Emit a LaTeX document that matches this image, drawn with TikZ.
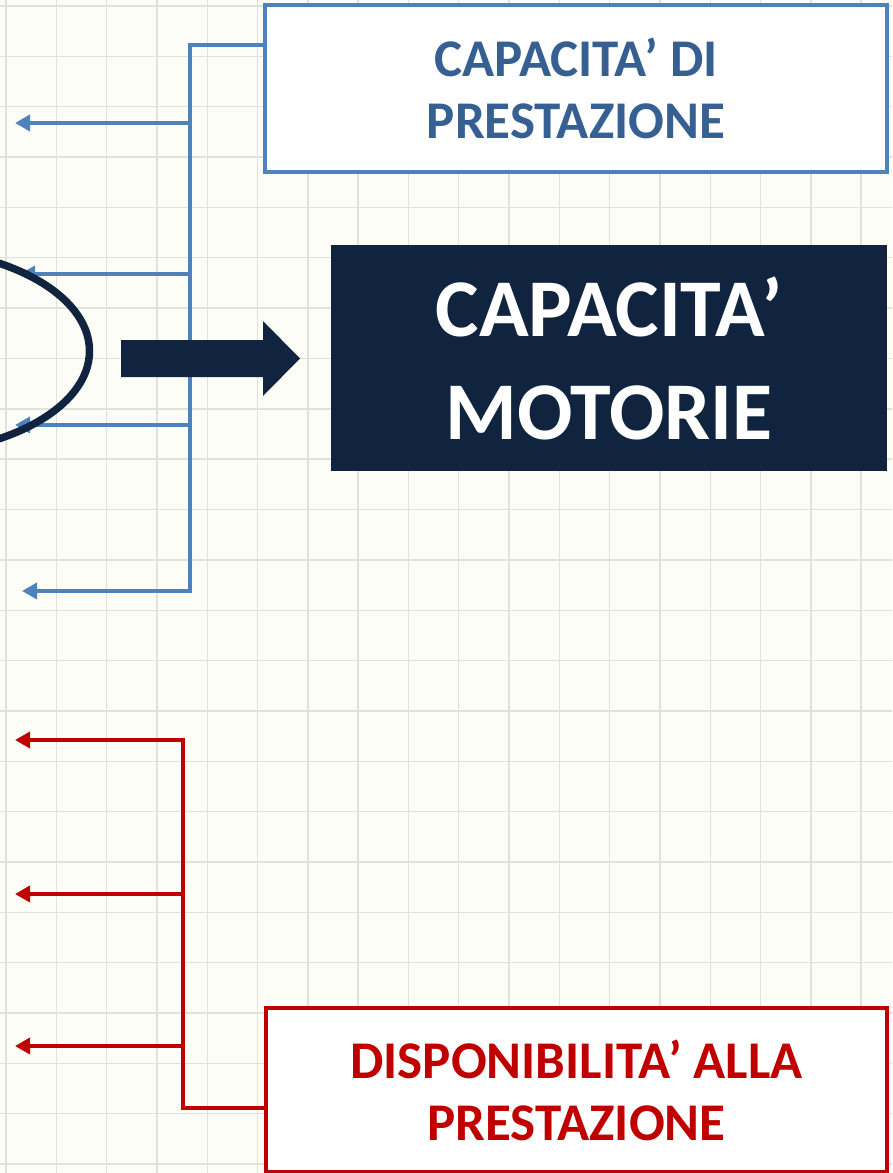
\documentclass[tikz,border=0pt]{standalone}
\usepackage{fontspec}
\setmainfont{Carlito}
\usetikzlibrary{arrows.meta}
\definecolor{bg}{HTML}{FDFDF8}
\definecolor{gridc}{HTML}{E2E2DC}
\definecolor{lblue}{HTML}{4F81BD}
\definecolor{tblue}{HTML}{376092}
\definecolor{navy}{HTML}{10243F}
\definecolor{dred}{HTML}{C00000}
\begin{document}
\begin{tikzpicture}[x=1pt,y=-1pt,
  boxtext/.style={font=\fontsize{53}{62}\selectfont\bfseries, align=center, inner sep=0pt},
  bluebox/.style={boxtext, draw=lblue, line width=4pt, fill=white, text=tblue,
    minimum width=622pt, minimum height=167pt},
  redbox/.style={boxtext, draw=dred, line width=4pt, fill=white, text=dred,
    minimum width=621pt, minimum height=164pt},
  navybox/.style={fill=navy, text=white, align=center, inner sep=0pt,
    font=\fontsize{82}{103}\selectfont\bfseries,
    minimum width=556pt, minimum height=226pt},
  bline/.style={draw=lblue, line width=4pt},
  barrow/.style={bline, -{Triangle[length=15pt,width=16pt]}},
  rline/.style={draw=dred, line width=4pt},
  rarrow/.style={rline, -{Triangle[length=15pt,width=16pt]}},
  gridline/.style={draw=gridc, line width=1.4pt}
]
\fill[bg] (0,0) rectangle (892,1173);
\useasboundingbox (0,0) rectangle (892,1173);
\foreach \i in {0,...,17} { \draw[gridline] ({6+50.3*\i},0) -- ({6+50.3*\i},1173); }
\foreach \j in {0,...,23} { \draw[gridline] (0,{6+50.35*\j}) -- (892,{6+50.35*\j}); }

% boxes
\node[bluebox] (cp) at (576,88.5) {CAPACITA’ DI\\PRESTAZIONE};
\node[navybox] (cm) at (609,358) {CAPACITA’\\MOTORIE};
\node[redbox] (dp) at (576.5,1090) {DISPONIBILITA’ ALLA\\PRESTAZIONE};

% blue connectors
\coordinate (bj) at (190,45);
\coordinate (b1) at (190,123); \coordinate (t1) at (15,123);
\coordinate (b2) at (188,274); \coordinate (t2) at (20,274);
\coordinate (b3) at (188,425); \coordinate (t3) at (15,425);
\coordinate (b4) at (190,591); \coordinate (t4) at (22,591);
\draw[barrow] (cp.west |- bj) -- (bj) -- (b4) -- (t4);
\draw[barrow] (b1) -- (t1);
\draw[barrow] (b2) -- (t2);
\draw[barrow] (b3) -- (t3);

% red connectors
\coordinate (rb) at (183,1108);
\coordinate (rt) at (183,740); \coordinate (s1) at (15,740);
\coordinate (r2) at (181,894); \coordinate (s2) at (15,894);
\coordinate (r3) at (181,1046); \coordinate (s3) at (15,1046);
\draw[rarrow] (dp.west |- rb) -- (rb) -- (rt) -- (s1);
\draw[rarrow] (r2) -- (s2);
\draw[rarrow] (r3) -- (s3);

% ellipse
\draw[navy, line width=7.5pt] (-100,351) ellipse [x radius=189.5, y radius=103];

% block arrow
\fill[navy] (121,340) -- (263,340) -- (263,321) -- (300,358.5) -- (263,396) -- (263,377) -- (121,377) -- cycle;
\end{tikzpicture}
\end{document}
